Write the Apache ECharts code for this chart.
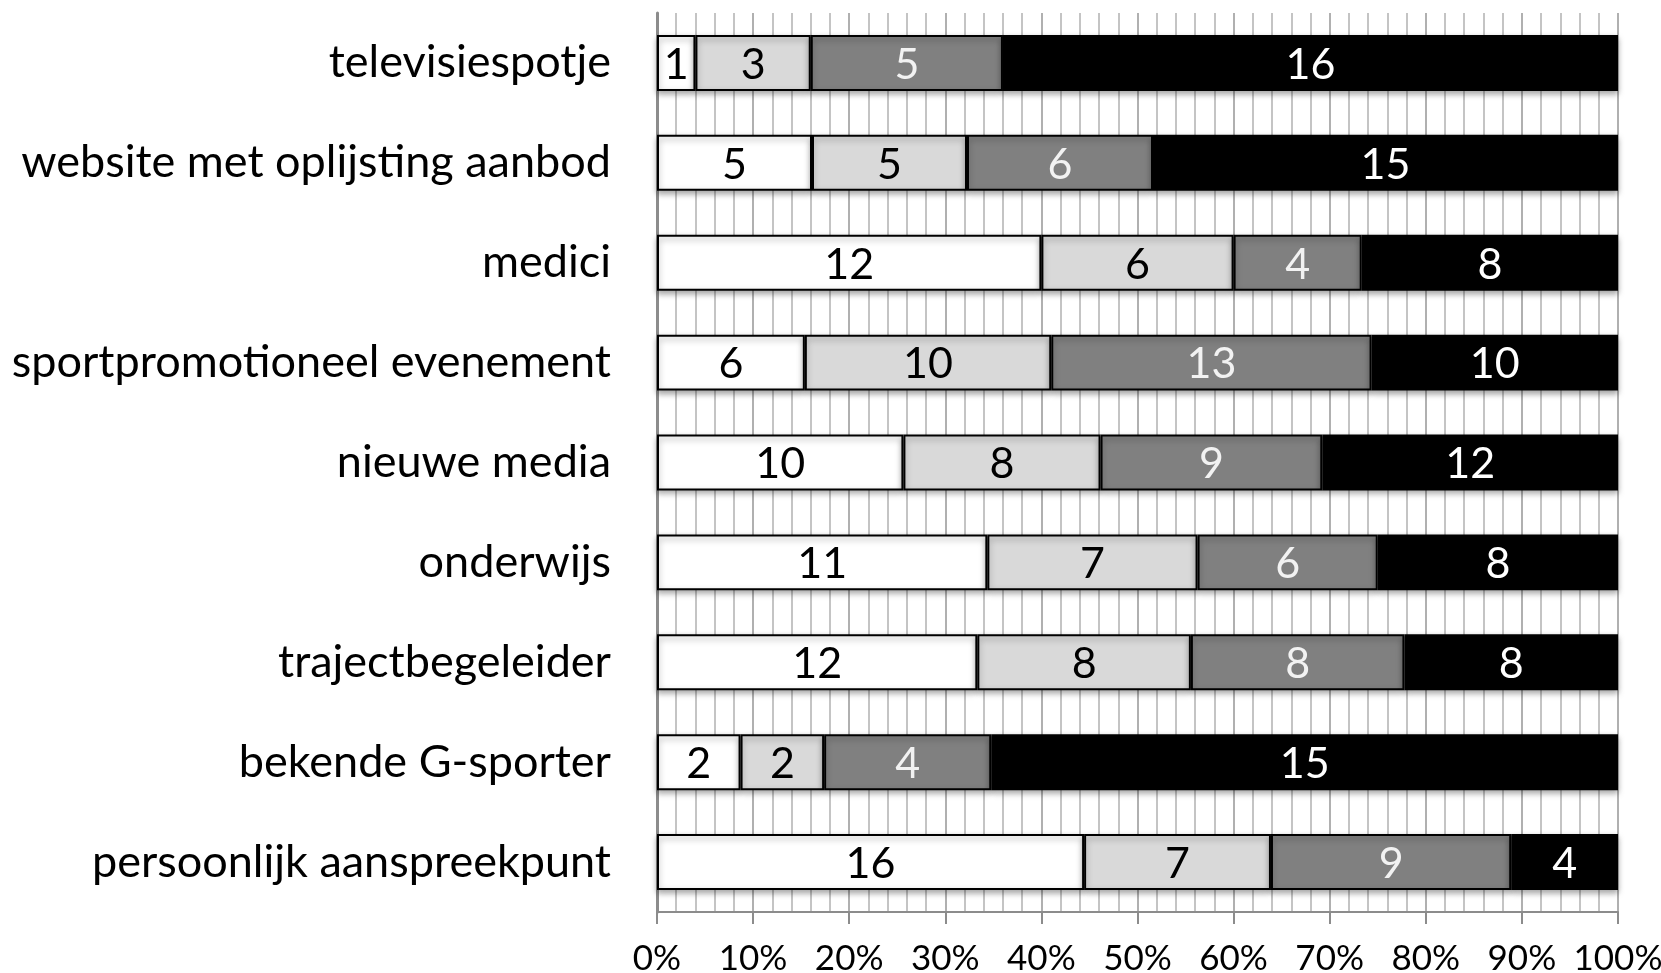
<!DOCTYPE html>
<html>
<head>
<meta charset="utf-8">
<script src="https://cdn.jsdelivr.net/npm/echarts@6/dist/echarts.min.js"></script>
<style>
  html, body { margin: 0; padding: 0; background: #fff; }
  #chart { width: 1661px; height: 973px; }
</style>
</head>
<body>
<div id="chart"></div>
<script>
// categories top to bottom
const categories = [
  'televisiespotje',
  'website met oplijsting aanbod',
  'medici',
  'sportpromotioneel evenement',
  'nieuwe media',
  'onderwijs',
  'trajectbegeleider',
  'bekende G-sporter',
  'persoonlijk aanspreekpunt'
]

// counts per segment (left to right)
const seg1 = [1, 5, 12, 6, 10, 11, 12, 2, 16]
const seg2 = [3, 5, 6, 10, 8, 7, 8, 2, 7]
const seg3 = [5, 6, 4, 13, 9, 6, 8, 4, 9]
const seg4 = [16, 15, 8, 10, 12, 8, 8, 15, 4]

const xTicks = ['0%', '10%', '20%', '30%', '40%', '50%', '60%', '70%', '80%', '90%', '100%']

const chart = echarts.init(document.getElementById('chart'))

const totals = categories.map((c, i) => seg1[i] + seg2[i] + seg3[i] + seg4[i])

const font = 'Lato, "Open Sans", sans-serif'

const makeSeries = (counts, fill, textColor) => ({
  type: 'bar',
  stack: 'all',
  barWidth: '56%',
  data: counts.map((v, i) => ({ value: v / totals[i], count: v })),
  itemStyle: {
    color: fill,
    borderColor: '#000',
    borderWidth: 2,
    shadowColor: 'rgba(0,0,0,0.35)',
    shadowBlur: 6,
    shadowOffsetY: 3
  },
  label: {
    show: true,
    position: 'inside',
    offset: [0, 2],
    color: textColor,
    fontFamily: font,
    fontSize: 43,
    formatter: (p) => p.data.count
  }
})

const option = {
  animation: false,
  grid: {
    left: 657,
    right: 43,
    top: 13,
    bottom: 61,
    outerBoundsMode: 'none'
  },
  xAxis: {
    type: 'value',
    min: 0,
    max: 1,
    interval: 0.1,
    axisLine: { show: true, lineStyle: { color: '#8c8c8c', width: 2 } },
    axisTick: { show: true, length: 12, lineStyle: { color: '#8c8c8c', width: 2 } },
    axisLabel: {
      margin: 29,
      color: '#000',
      fontFamily: font,
      fontSize: 35,
      hideOverlap: false,
      formatter: (v) => xTicks[Math.round(v * 10)]
    },
    splitLine: { show: true, lineStyle: { color: '#b0b0b0', width: 2 } },
    minorTick: { show: false, splitNumber: 5 },
    minorSplitLine: { show: true, lineStyle: { color: '#c4c4c4', width: 2 } }
  },
  yAxis: {
    type: 'category',
    inverse: true,
    data: categories,
    axisLine: { show: true, lineStyle: { color: '#8c8c8c', width: 3 } },
    axisTick: { show: false },
    axisLabel: {
      margin: 46,
      color: '#000',
      fontFamily: font,
      fontSize: 45,
      padding: [4, 0, 0, 0]
    },
    splitLine: { show: false }
  },
  series: [
    makeSeries(seg1, '#ffffff', '#000'),
    makeSeries(seg2, '#d9d9d9', '#000'),
    makeSeries(seg3, '#808080', '#f2f2f2'),
    makeSeries(seg4, '#000000', '#ffffff')
  ]
}

chart.setOption(option)
</script>
</body>
</html>
